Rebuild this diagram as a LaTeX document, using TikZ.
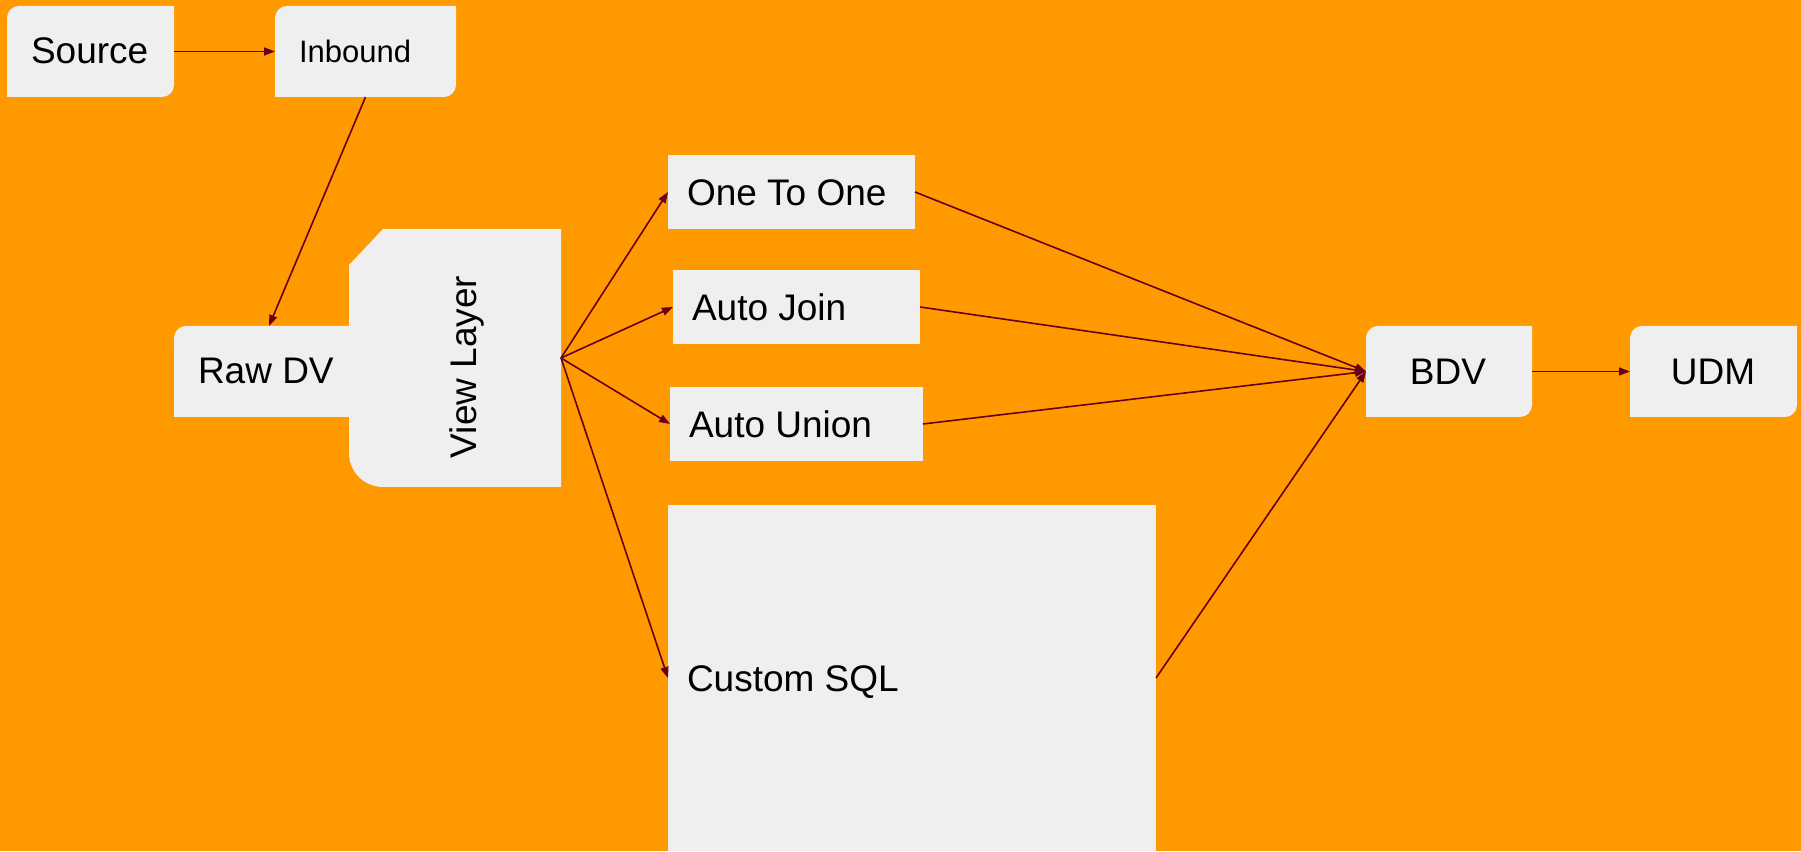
\documentclass[tikz,border=0pt]{standalone}
\usepackage{fontspec}
\setmainfont{Liberation Sans}
\usetikzlibrary{arrows.meta}
\definecolor{bgorange}{HTML}{FF9900}
\definecolor{boxgray}{HTML}{EFEFEF}
\definecolor{arrowred}{HTML}{660019}
\begin{document}
\begin{tikzpicture}[x=1pt,y=1pt,
  box/.style={shape=rectangle,inner sep=0pt,outer sep=0pt,draw=none},
  plainbox/.style={box,fill=boxgray},
  lbl/.style={inner sep=0pt,outer sep=0pt,font=\fontsize{37pt}{40pt}\selectfont,text=black},
  smalllbl/.style={inner sep=0pt,outer sep=0pt,font=\fontsize{31pt}{34pt}\selectfont,text=black},
  conn/.style={draw=arrowred,line width=1.6pt,-{Triangle[length=11pt,width=8pt]}}
]
\fill[bgorange] (0,0) rectangle (1801,851);
\useasboundingbox (0,0) rectangle (1801,851);

% boxes (named nodes)
\node[box,minimum width=167pt,minimum height=91pt,anchor=south west] (src) at (7,754) {};
\node[box,minimum width=181pt,minimum height=91pt,anchor=south west] (inb) at (275,754) {};
\node[box,minimum width=190pt,minimum height=91pt,anchor=south west] (raw) at (174,434) {};
\node[box,minimum width=212pt,minimum height=258pt,anchor=south west] (view) at (349,364) {};
\node[plainbox,minimum width=247pt,minimum height=74pt,anchor=south west] (oto) at (668,622) {};
\node[plainbox,minimum width=247pt,minimum height=74pt,anchor=south west] (aj) at (673,507) {};
\node[plainbox,minimum width=253pt,minimum height=74pt,anchor=south west] (au) at (670,390) {};
\node[plainbox,minimum width=488pt,minimum height=346pt,anchor=south west] (csql) at (668,0) {};
\node[box,minimum width=166pt,minimum height=91pt,anchor=south west] (bdv) at (1366,434) {};
\node[box,minimum width=167pt,minimum height=91pt,anchor=south west] (udm) at (1630,434) {};

% shaped fills
\foreach \n in {src,inb,bdv,udm}{
  \fill[boxgray] (\n.south west) -- ([yshift=-12pt]\n.north west)
    arc[start angle=180,end angle=90,radius=12pt] -- (\n.north east)
    -- ([yshift=12pt]\n.south east) arc[start angle=0,end angle=-90,radius=12pt] -- cycle;
}
\fill[boxgray] (raw.south west) -- ([yshift=-12pt]raw.north west)
  arc[start angle=180,end angle=90,radius=12pt] -- (raw.north east) -- (raw.south east) -- cycle;
\fill[boxgray] (view.south east) -- (view.north east) -- ([xshift=34pt]view.north west)
  -- ([yshift=-36pt]view.north west) -- ([yshift=34pt]view.south west)
  arc[start angle=180,end angle=270,radius=34pt] -- cycle;

% labels
\node[lbl,anchor=base west] (tsrc) at (31,787) {Source};
\node[smalllbl,anchor=base west] (tinb) at (299,788) {Inbound};
\node[lbl,anchor=base west] (traw) at (198,467) {Raw DV};
\node[lbl,anchor=base,rotate=90] (tview) at (476,484) {View Layer};
\node[lbl,anchor=base west] (toto) at (687,645) {One To One};
\node[lbl,anchor=base west] (taj) at (692,530) {Auto Join};
\node[lbl,anchor=base west] (tau) at (689,413) {Auto Union};
\node[lbl,anchor=base west] (tcsql) at (687,159) {Custom SQL};
\node[lbl,anchor=base] (tbdv) at (1448,466) {BDV};
\node[lbl,anchor=base] (tudm) at (1713,466) {UDM};

% connectors
\draw[conn] (src.east) -- (inb.west);
\draw[conn] (inb.south) -- (raw.north);
\draw[conn] (view.east) -- (oto.west);
\draw[conn] (view.east) -- (aj.west);
\draw[conn] (view.east) -- (au.west);
\draw[conn] (view.east) -- (csql.west);
\draw[conn] (oto.east) -- (bdv.west);
\draw[conn] (aj.east) -- (bdv.west);
\draw[conn] (au.east) -- (bdv.west);
\draw[conn] (csql.east) -- (bdv.west);
\draw[conn] (bdv.east) -- (udm.west);
\end{tikzpicture}
\end{document}
